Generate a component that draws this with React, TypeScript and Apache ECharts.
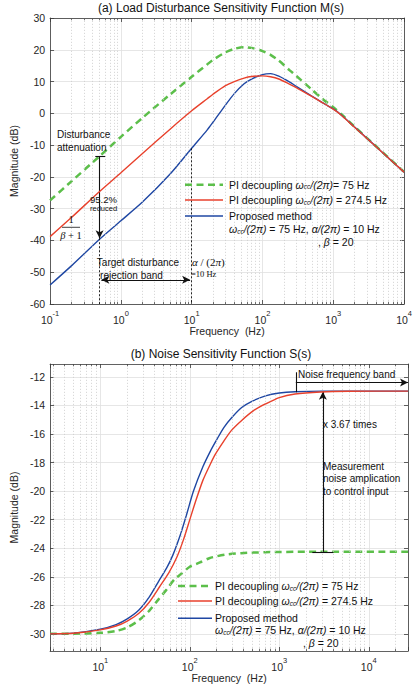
import React, { useEffect, useRef } from "react";
import * as echarts from "echarts";

// ---------- Data ----------
// (a) Load disturbance sensitivity M(s), dB
const mFreq = [0.1, 0.2, 0.5, 1, 2, 5, 10, 16.6, 20, 30, 40, 55, 70, 100, 130, 170, 240, 300, 490, 700, 1000, 1300, 2000, 5000, 10000];
const mPi75 = [-27.4, -21.4, -13.5, -7.4, -1.5, 6.0, 11.5, 15.4, 16.8, 19.2, 20.3, 20.8, 20.6, 19.6, 18.4, 16.6, 13.6, 11.8, 7.6, 4.6, 1.9, -0.3, -4.2, -12.3, -18.4];
const mPi274 = [-38.8, -32.8, -24.6, -18.7, -12.7, -4.9, 0.8, 4.6, 6.0, 8.7, 10.0, 11.1, 11.6, 11.8, 11.5, 10.8, 9.2, 8.1, 5.4, 3.4, 1.3, -0.6, -4.4, -12.4, -18.5];
const mProposed = [-54.0, -48.0, -39.6, -33.8, -28.0, -19.0, -11.0, -5.2, -2.8, 2.6, 6.2, 9.3, 10.8, 12.2, 12.5, 11.7, 9.9, 8.5, 5.5, 3.4, 1.4, -0.5, -4.3, -12.4, -18.5];

// (b) Noise sensitivity S(s), dB
const sProposedFreq = [2.745, 5, 10, 15, 20, 27, 35, 45, 55, 65, 80, 93, 110, 140, 170, 200, 240, 300, 380, 500, 700, 1000, 1500, 3000, 27450];
const sProposed = [-30.0, -29.95, -29.67, -29.35, -28.95, -28.33, -27.45, -26.3, -25.4, -24.45, -22.9, -21.55, -20.0, -18.3, -17.2, -16.4, -15.55, -14.8, -14.15, -13.7, -13.33, -13.13, -13.04, -13.0, -13.0];
const sPi274Freq = [2.745, 5, 10, 15, 20, 27, 35, 46, 58, 72, 85, 100, 115, 140, 170, 194, 240, 292, 380, 520, 700, 1000, 1500, 2900, 6000, 27450];
const sPi274 = [-30.0, -29.96, -29.72, -29.45, -29.1, -28.56, -27.8, -26.7, -25.75, -24.6, -23.4, -22.0, -20.8, -19.25, -18.1, -17.4, -16.5, -15.75, -15.05, -14.35, -13.9, -13.45, -13.2, -13.06, -13.01, -13.0];
const sPi75Freq = [2.745, 5, 10, 15, 20, 27, 35, 44.5, 55, 67, 80, 100, 130, 165, 250, 373, 700, 2000, 27450];
const sPi75 = [-30.0, -29.99, -29.93, -29.8, -29.55, -29.05, -28.4, -27.6, -26.9, -26.2, -25.8, -25.3, -25.0, -24.7, -24.45, -24.35, -24.28, -24.25, -24.25];

// Axis ranges / ticks
const mXRange = [0.1, 10000];
const mYRange = [-60, 30];
const sXRange = [2.745, 27450];
const sYRange = [-31.2, -11.1];
const sYTicks = [-30, -28, -26, -24, -22, -20, -18, -16, -14, -12];

// Annotation anchors (data space)
const attenFreq = 0.5;
const attenTop = -13.5;
const attenBottom = -39.3;
const alphaFreq = 10;
const alphaDb = -11;
const bandDb = -52.4;
const noiseBandStart = 1531;
const noiseBandDb = -12.4;
const ampFreq = 3070;
const ampLow = -24.25;
const ampHigh = -13.05;

// ---------- Styles ----------
const FONT = 'Arial, "Liberation Sans", Helvetica, sans-serif';
const SERIF = '"Times New Roman", "Liberation Serif", serif';
const GREEN = "#5cbf4a";
const RED = "#e8412c";
const BLUE = "#1f47a3";
const AXIS = "#3a3a3a";
const TEXT = "#262626";
const GRID = "#e0e0e0";
const MINOR = "#c9c9c9";

const pairs = (f: number[], v: number[]) => f.map((x, i) => [x, v[i]]);

const minorList = (lo: number, hi: number) => {
  const out: number[] = [];
  for (let d = 0.1; d <= 10000; d *= 10) {
    for (let k = 2; k <= 9; k++) {
      const v = +(k * d).toPrecision(6);
      if (v > lo && v < hi) out.push(v);
    }
  }
  return out;
};

const supFmt = (v: number) => {
  const e = Math.log10(v);
  const r = Math.round(e);
  if (Math.abs(e - r) > 1e-6) return "";
  return "{b|10}{sup|" + r + "}";
};

const supRich = {
  b: { fontSize: 10.5, lineHeight: 16, color: TEXT, fontFamily: FONT, verticalAlign: "bottom" },
  sup: { fontSize: 7.5, lineHeight: 9, color: TEXT, fontFamily: FONT, verticalAlign: "top" },
};

const xAxisDef = (grid: number, range: number[], pos: string, main: boolean, margin: number, nameGap: number) => ({
  type: "log",
  logBase: 10,
  gridIndex: grid,
  min: range[0],
  max: range[1],
  position: pos,
  name: main ? "Frequency  (Hz)" : "",
  nameLocation: "middle",
  nameGap,
  nameTextStyle: { fontSize: 10.5, color: TEXT, fontFamily: FONT },
  axisLine: { show: true, onZero: false, lineStyle: { color: AXIS, width: 0.8 } },
  axisTick: { show: true, inside: true, length: 4, lineStyle: { color: AXIS, width: 0.8 } },
  axisLabel: main
    ? { show: true, interval: 0, margin, formatter: supFmt, rich: supRich, showMinLabel: true, showMaxLabel: true }
    : { show: false },
  splitLine: main ? { show: true, lineStyle: { color: GRID, width: 0.8 } } : { show: false },
  minorTick: { show: false },
  minorSplitLine: { show: false },
});

const yAxisDef = (grid: number, range: number[], pos: string, main: boolean, extra: any) => ({
  type: "value",
  gridIndex: grid,
  min: range[0],
  max: range[1],
  position: pos,
  name: main ? "Magnitude (dB)" : "",
  nameLocation: "middle",
  nameGap: 21,
  nameTextStyle: { fontSize: 10.5, color: TEXT, fontFamily: FONT },
  axisLine: { show: true, onZero: false, lineStyle: { color: AXIS, width: 0.8 } },
  axisTick: { show: true, inside: true, length: 4, lineStyle: { color: AXIS, width: 0.8 }, ...(extra.tick || {}) },
  axisLabel: main
    ? { show: true, margin: 5, fontSize: 10.5, color: TEXT, fontFamily: FONT, ...(extra.label || {}) }
    : { show: false },
  splitLine: main ? { show: true, lineStyle: { color: GRID, width: 0.8 } } : { show: false },
  ...(extra.interval ? { interval: extra.interval } : {}),
});

const curve = (name: string, f: number[], v: number[], color: string, width: number, dash: any, xi: number, yi: number, z: number) => ({
  type: "line",
  name,
  xAxisIndex: xi,
  yAxisIndex: yi,
  data: pairs(f, v),
  showSymbol: false,
  symbol: "none",
  smooth: 0.25,
  silent: true,
  z,
  lineStyle: { color, width, type: dash, cap: "butt" },
});

const blackLine = { color: "#111", width: 1.1, type: "solid" };
const dotLine = { color: "#111", width: 0.9, type: [2, 2] };

const seg = (a: number[], b: number[], style: any, s0 = "none", s1 = "none") => [
  { coord: a, symbol: s0, symbolSize: [6, 8], lineStyle: style },
  { coord: b, symbol: s1, symbolSize: [6, 8] },
];

const gridLayer = (xi: number, yi: number, minors: number[], yr: number[], tickLen: number) => ({
  type: "line",
  xAxisIndex: xi,
  yAxisIndex: yi,
  data: [],
  silent: true,
  z: 1,
  markLine: {
    silent: true,
    animation: false,
    symbol: ["none", "none"],
    label: { show: false },
    emphasis: { disabled: true },
    data: [
      ...minors.map((f) => ({ xAxis: f, lineStyle: { color: MINOR, width: 0.7, type: [1.2, 1.8] } })),
      ...minors.map((f) => [
        { coord: [f, yr[0]], lineStyle: { color: AXIS, width: 0.7, type: "solid" } },
        { coord: [f, yr[0] + tickLen] },
      ]),
      ...minors.map((f) => [
        { coord: [f, yr[1]], lineStyle: { color: AXIS, width: 0.7, type: "solid" } },
        { coord: [f, yr[1] - tickLen] },
      ]),
    ],
  },
});

const annotLayer = (xi: number, yi: number, data: any[]) => ({
  type: "line",
  xAxisIndex: xi,
  yAxisIndex: yi,
  data: [],
  silent: true,
  z: 6,
  markLine: {
    silent: true,
    animation: false,
    symbol: ["none", "none"],
    label: { show: false },
    emphasis: { disabled: true },
    data,
  },
});

// graphic helpers
const txt = (x: number, y: number, text: string, size = 10, align = "left", extra: any = {}) => ({
  type: "text",
  x,
  y,
  z: 20,
  silent: true,
  style: {
    text,
    fill: "#111",
    fontSize: size,
    fontFamily: FONT,
    align,
    textAlign: align,
    verticalAlign: "middle",
    textVerticalAlign: "middle",
    ...extra,
  },
});

const legRich = (size: number) => ({
  w: { fontStyle: "italic", fontSize: size, fontFamily: FONT, fill: "#111", color: "#111" },
  sub: { fontStyle: "italic", fontSize: size * 0.62, fontFamily: FONT, fill: "#111", color: "#111", verticalAlign: "bottom", padding: [4, 0, 0, 0] },
});

const gline = (x1: number, y1: number, x2: number, y2: number, stroke: string, width: number, dash?: number[]) => ({
  type: "line",
  z: 20,
  silent: true,
  shape: { x1, y1, x2, y2 },
  style: { stroke, lineWidth: width, lineDash: dash || null },
});

const legendBlock = (x0: number, x1: number, tx: number, ys: number[], betaX: number, firstEq: string) => {
  const r = legRich(10.5);
  return [
    gline(x0, ys[0], x1, ys[0], GREEN, 2.5, [7, 4.5]),
    txt(tx, ys[0], "PI decoupling {w|ω}{sub|cc}{w|/(2π)}" + firstEq + "75 Hz", 10.5, "left", { rich: r }),
    gline(x0, ys[1], x1, ys[1], RED, 1.5),
    txt(tx, ys[1], "PI decoupling {w|ω}{sub|cc}{w|/(2π)} = 274.5 Hz", 10.5, "left", { rich: r }),
    gline(x0, ys[2], x1, ys[2], BLUE, 1.5),
    txt(tx, ys[2], "Proposed method", 10.5),
    txt(tx, ys[3], "{w|ω}{sub|cc}{w|/(2π)} = 75 Hz, {w|α/(2π)} = 10 Hz", 10.5, "left", { rich: r }),
    txt(betaX, ys[4], ", {w|β} = 20", 10.5, "left", { rich: r }),
  ];
};

const topMinor = minorList(mXRange[0], mXRange[1]);
const botMinor = minorList(sXRange[0], sXRange[1]);

const option: any = {
  animation: false,
  backgroundColor: "#ffffff",
  textStyle: { fontFamily: FONT },
  title: [
    {
      text: "(a) Load Disturbance Sensitivity Function M(s)",
      left: 221,
      textAlign: "center",
      top: 2,
      padding: 0,
      textStyle: { fontSize: 12, fontWeight: "normal", color: "#111", fontFamily: FONT },
    },
    {
      text: "(b) Noise Sensitivity Function S(s)",
      left: 221,
      textAlign: "center",
      top: 348,
      padding: 0,
      textStyle: { fontSize: 12, fontWeight: "normal", color: "#111", fontFamily: FONT },
    },
  ],
  grid: [
    { left: 34, top: 18, width: 374, height: 286, containLabel: false },
    { left: 34, top: 364, width: 374, height: 287, containLabel: false },
  ],
  xAxis: [
    xAxisDef(0, mXRange, "bottom", true, 5, 19),
    xAxisDef(0, mXRange, "top", false, 5, 0),
    xAxisDef(1, sXRange, "bottom", true, 5, 16),
    xAxisDef(1, sXRange, "top", false, 5, 0),
  ],
  yAxis: [
    yAxisDef(0, mYRange, "left", true, { interval: 10 }),
    yAxisDef(0, mYRange, "right", false, { interval: 10 }),
    yAxisDef(1, sYRange, "left", true, { tick: { customValues: sYTicks }, label: { customValues: sYTicks } }),
    yAxisDef(1, sYRange, "right", false, { tick: { customValues: sYTicks } }),
  ],
  series: [
    gridLayer(0, 0, topMinor, mYRange, 0.7),
    gridLayer(2, 2, botMinor, sYRange, 0.16),
    curve("PI decoupling 75 Hz", mFreq, mPi75, GREEN, 2.5, [7, 4.5], 0, 0, 3),
    curve("Proposed method", mFreq, mProposed, BLUE, 1.4, "solid", 0, 0, 4),
    curve("PI decoupling 274.5 Hz", mFreq, mPi274, RED, 1.4, "solid", 0, 0, 5),
    curve("PI decoupling 75 Hz (S)", sPi75Freq, sPi75, GREEN, 2.5, [7, 4.5], 2, 2, 3),
    curve("Proposed method (S)", sProposedFreq, sProposed, BLUE, 1.4, "solid", 2, 2, 4),
    curve("PI decoupling 274.5 Hz (S)", sPi274Freq, sPi274, RED, 1.4, "solid", 2, 2, 5),
    annotLayer(0, 0, [
      seg([attenFreq, attenTop], [attenFreq, attenBottom], blackLine, "none", "arrow"),
      seg([0.435, attenTop], [0.6, attenTop], blackLine),
      seg([attenFreq, attenBottom], [attenFreq, mYRange[0]], dotLine),
      seg([alphaFreq, alphaDb], [alphaFreq, mYRange[0]], dotLine),
      seg([0.53, bandDb], [9.5, bandDb], blackLine, "arrow", "arrow"),
    ]),
    annotLayer(2, 2, [
      seg([noiseBandStart, -11.68], [noiseBandStart, -13.08], blackLine),
      seg([noiseBandStart, noiseBandDb], [sXRange[1], noiseBandDb], blackLine, "none", "arrow"),
      seg([ampFreq, ampLow], [ampFreq, ampHigh], blackLine, "none", "arrow"),
      seg([2340, ampLow], [4020, ampLow], blackLine),
    ]),
  ],
  graphic: [
    // (a) annotations
    txt(57, 134.7, "Disturbance", 10),
    txt(57, 147.7, "attenuation", 10),
    txt(90, 199, "95.2%", 9.5),
    txt(90, 208.5, "reduced", 7.5),
    txt(71, 219.5, "1", 10.5, "center", { fontFamily: SERIF }),
    gline(62, 227.3, 80, 227.3, "#111", 0.8),
    txt(71, 235.5, "{i|β} + 1", 10.5, "center", {
      fontFamily: SERIF,
      rich: { i: { fontStyle: "italic", fontFamily: SERIF, fontSize: 10.5, fill: "#111", color: "#111" } },
    }),
    txt(138, 262.3, "Target disturbance", 10, "center"),
    txt(131.5, 275, "rejection band", 10, "center"),
    txt(192, 261.7, "{i|α} / (2{i|π})", 11, "left", {
      fontFamily: SERIF,
      rich: { i: { fontStyle: "italic", fontFamily: SERIF, fontSize: 11, fill: "#111", color: "#111" } },
    }),
    txt(191, 274, "=10 Hz", 8.5, "left", { fontFamily: SERIF }),
    ...legendBlock(185, 223, 229, [184.7, 200, 216, 229, 241.7], 318, "= "),
    // (b) annotations
    txt(298, 374, "Noise frequency band", 10),
    txt(323, 424, "x 3.67 times", 10),
    txt(323, 466, "Measurement", 10),
    txt(323, 478.7, "noise amplication", 10),
    txt(323, 491.7, "to control input", 10),
    ...legendBlock(178, 212, 215, [586, 601, 618.3, 630, 643.3], 303, " = "),
  ],
};

export default function App() {
  const ref = useRef<HTMLDivElement>(null);
  useEffect(() => {
    document.body.style.margin = "0";
    const chart = echarts.init(ref.current as HTMLDivElement, null, { renderer: "svg" });
    chart.setOption(option);
    return () => chart.dispose();
  }, []);
  return <div ref={ref} style={{ width: 415, height: 685 }} />;
}
